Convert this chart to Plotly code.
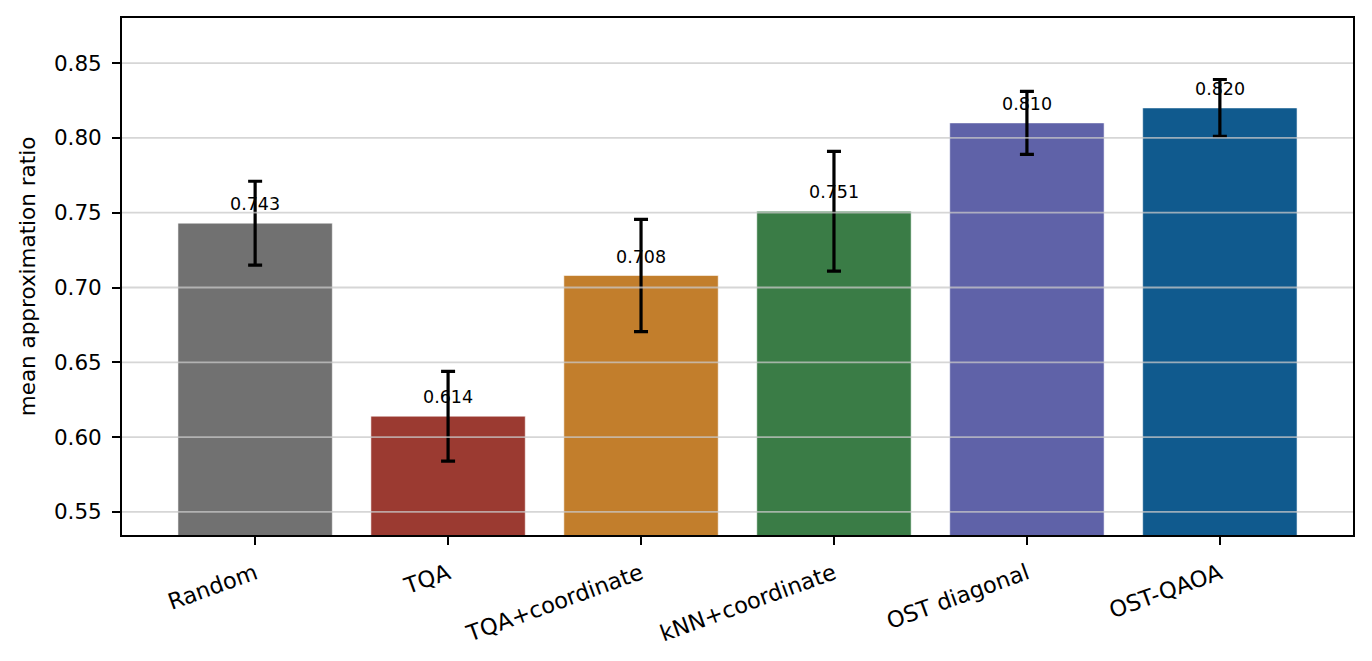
import plotly.graph_objects as go

categories = ["Random", "TQA", "TQA+coordinate", "kNN+coordinate", "OST diagonal", "OST-QAOA"]
means = [0.743, 0.614, 0.708, 0.751, 0.810, 0.820]
errors = [0.028, 0.030, 0.0375, 0.040, 0.021, 0.019]
labels = ["0.743", "0.614", "0.708", "0.751", "0.810", "0.820"]
colors = ["#717171", "#9b3a31", "#c27e2c", "#3a7c46", "#5f62a8", "#105a8e"]
ytick_vals = [0.55, 0.60, 0.65, 0.70, 0.75, 0.80, 0.85]
ytick_text = ["0.55", "0.60", "0.65", "0.70", "0.75", "0.80", "0.85"]

FONT = "DejaVu Sans"
x_idx = list(range(len(categories)))

fig = go.Figure()
fig.add_trace(go.Bar(
    x=x_idx, y=means, width=0.8,
    marker=dict(color=colors, line=dict(color="rgba(255,255,255,0.55)", width=1)),
    error_y=dict(type="data", array=errors, visible=True, color="black", thickness=3.2, width=7),
    showlegend=False, hoverinfo="skip",
))

# value annotations
for i, (m, lab) in enumerate(zip(means, labels)):
    fig.add_annotation(x=i, y=m, text=lab, showarrow=False, yanchor="middle", yshift=19,
                       font=dict(family=FONT, size=17.5, color="black"))

# gridlines drawn above bars (as in matplotlib)
for v in ytick_vals:
    fig.add_shape(type="line", xref="paper", x0=0, x1=1, yref="y", y0=v, y1=v,
                  line=dict(color="rgba(200,200,200,0.75)", width=1.8), layer="above")

fig.update_layout(
    width=1372, height=661,
    margin=dict(l=122, r=19, t=18, b=126),
    paper_bgcolor="white", plot_bgcolor="white",
    font=dict(family=FONT, size=22, color="black"),
    bargap=0.2,
)
fig.update_xaxes(
    range=[-0.69, 5.69], tickmode="array", tickvals=x_idx, ticktext=categories,
    tickangle=-20, ticks="outside", ticklen=8, tickwidth=1.8, tickcolor="black",
    showline=True, linecolor="black", linewidth=1.8, mirror=True, showgrid=False,
    zeroline=False, tickfont=dict(family=FONT, size=22.5), ticklabelstandoff=7,
)
fig.update_yaxes(
    range=[0.5346, 0.8801], tickmode="array", tickvals=ytick_vals, ticktext=ytick_text,
    ticks="outside", ticklen=8, tickwidth=1.8, tickcolor="black",
    showline=True, linecolor="black", linewidth=1.8, mirror=True, showgrid=False,
    zeroline=False, tickfont=dict(family=FONT, size=21.5), ticklabelstandoff=6,
    title=dict(text="mean approximation ratio", font=dict(family=FONT, size=21.5), standoff=12),
)

fig.write_html("out.html")
